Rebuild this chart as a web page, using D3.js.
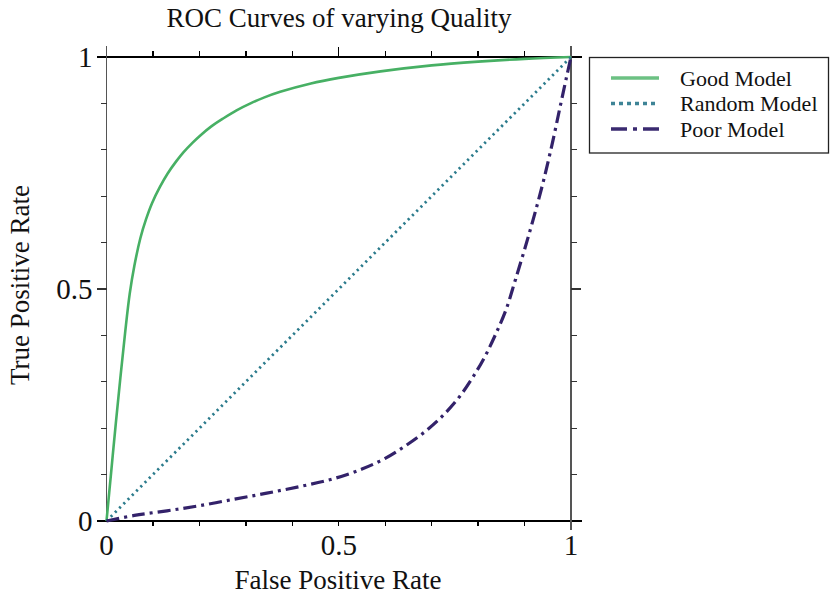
<!DOCTYPE html>
<html>
<head>
<meta charset="utf-8">
<script src="https://cdn.jsdelivr.net/npm/d3@7"></script>
<style>
  html, body { margin: 0; padding: 0; background: #fff; }
  svg { display: block; font-family: "Liberation Serif", "DejaVu Serif", serif; }
</style>
</head>
<body>
<svg id="chart" width="830" height="596"></svg>
<script>
// ROC curve samples (false positive rate → true positive rate)
const goodFpr = [0, 0.01, 0.02, 0.03, 0.04, 0.05, 0.06, 0.073, 0.085, 0.098, 0.115, 0.131, 0.15, 0.166, 0.185, 0.202, 0.225, 0.252, 0.28, 0.31, 0.34, 0.374, 0.44, 0.5, 0.59, 0.7, 0.8, 0.9, 1];
const goodTpr = [0, 0.105, 0.21, 0.31, 0.405, 0.49, 0.55, 0.61, 0.65, 0.685, 0.72, 0.748, 0.775, 0.795, 0.815, 0.831, 0.85, 0.868, 0.885, 0.90, 0.913, 0.925, 0.943, 0.955, 0.969, 0.982, 0.99, 0.996, 1];

const randomFpr = [0, 1];
const randomTpr = [0, 1];

const poorFpr = [0, 0.06, 0.13, 0.2, 0.275, 0.345, 0.415, 0.485, 0.55, 0.6, 0.645, 0.69, 0.725, 0.76, 0.79, 0.815, 0.838, 0.86, 0.88, 0.9, 0.92, 0.94, 0.96, 0.976, 0.99, 1];
const poorTpr = [0, 0.012, 0.022, 0.033, 0.047, 0.060, 0.074, 0.090, 0.112, 0.135, 0.163, 0.196, 0.228, 0.268, 0.312, 0.355, 0.403, 0.455, 0.519, 0.585, 0.655, 0.73, 0.815, 0.89, 0.955, 1];

const seriesNames = ["Good Model", "Random Model", "Poor Model"];
const majorTicks = [0, 0.5, 1];
const majorTickLabels = ["0", "0.5", "1"];
const minorTicks = [0.1, 0.2, 0.3, 0.4, 0.6, 0.7, 0.8, 0.9];

const titleText = "ROC Curves of varying Quality";
const xLabel = "False Positive Rate";
const yLabel = "True Positive Rate";

const svg = d3.select("#chart");
const plotLeft = 106.5, plotRight = 571, plotTop = 57, plotBottom = 521;

const x = d3.scaleLinear().domain([0, 1]).range([plotLeft, plotRight]);
const y = d3.scaleLinear().domain([0, 1]).range([plotBottom, plotTop]);

const series = [
  { name: seriesNames[0], fpr: goodFpr, tpr: goodTpr, color: "#47b064", legendColor: "#6cc183", width: 2.6, dash: null, legendDash: null },
  { name: seriesNames[1], fpr: randomFpr, tpr: randomTpr, color: "#2b7b8c", legendColor: "#3e8496", width: 2.8, dash: "2.2,3.8", legendDash: "4,4" },
  { name: seriesNames[2], fpr: poorFpr, tpr: poorTpr, color: "#33226a", legendColor: "#3a2a70", width: 3.2, dash: "13,5,3,5", legendDash: "16,6,4,6" }
];

// title
svg.append("text").attr("x", 339).attr("y", 27).attr("text-anchor", "middle")
  .attr("font-size", 27).attr("fill", "#111").text(titleText);

// frame: horizontal edges black, vertical edges grey
const frame = svg.append("g").attr("shape-rendering", "crispEdges");
frame.append("line").attr("x1", x(0) - 10).attr("x2", x(1) + 11).attr("y1", y(1)).attr("y2", y(1)).attr("stroke", "#000").attr("stroke-width", 1.6);
frame.append("line").attr("x1", x(0) - 10).attr("x2", x(1) + 11).attr("y1", y(0)).attr("y2", y(0)).attr("stroke", "#000").attr("stroke-width", 1.6);
frame.append("line").attr("x1", x(0)).attr("x2", x(0)).attr("y1", y(1) - 11).attr("y2", y(0)).attr("stroke", "#555").attr("stroke-width", 1.6);
frame.append("line").attr("x1", x(1)).attr("x2", x(1)).attr("y1", y(1) - 11).attr("y2", y(0) + 9).attr("stroke", "#555").attr("stroke-width", 1.6);

// outward ticks
const ticks = svg.append("g").attr("stroke-width", 1.3).attr("shape-rendering", "crispEdges");
minorTicks.concat([0.5]).forEach(v => {
  const len = v === 0.5 ? 10 : 6;
  ticks.append("line").attr("x1", x(v)).attr("x2", x(v)).attr("y1", y(1)).attr("y2", y(1) - len).attr("stroke", "#000");
  ticks.append("line").attr("x1", x(v)).attr("x2", x(v)).attr("y1", y(0)).attr("y2", y(0) + 5).attr("stroke", "#000");
  ticks.append("line").attr("y1", y(v)).attr("y2", y(v)).attr("x1", x(0)).attr("x2", x(0) - len).attr("stroke", "#333");
  ticks.append("line").attr("y1", y(v)).attr("y2", y(v)).attr("x1", x(1)).attr("x2", x(1) + len).attr("stroke", "#333");
});

// tick labels
const labelSize = 29;
majorTicks.forEach((v, i) => {
  svg.append("text").attr("x", x(v)).attr("y", y(0) + 34).attr("text-anchor", "middle")
    .attr("font-size", labelSize).attr("fill", "#111").text(majorTickLabels[i]);
  svg.append("text").attr("x", x(0) - 14).attr("y", y(v) + 10).attr("text-anchor", "end")
    .attr("font-size", labelSize).attr("fill", "#111").text(majorTickLabels[i]);
});

// axis titles
svg.append("text").attr("x", 338).attr("y", 589).attr("text-anchor", "middle")
  .attr("font-size", 27).attr("fill", "#111").text(xLabel);
svg.append("text").attr("transform", `translate(29,${(plotTop + plotBottom) / 2 - 4}) rotate(-90)`)
  .attr("text-anchor", "middle").attr("font-size", 27).attr("fill", "#111").text(yLabel);

// curves
const line = d3.line().x(d => x(d[0])).y(d => y(d[1])).curve(d3.curveCatmullRom.alpha(0.5));
series.forEach(s => {
  const pts = s.fpr.map((f, i) => [f, s.tpr[i]]);
  svg.append("path").datum(pts).attr("d", line)
    .attr("fill", "none").attr("stroke", s.color).attr("stroke-width", s.width)
    .attr("stroke-dasharray", s.dash);
});

// legend
const legend = svg.append("g");
legend.append("rect").attr("x", 589.5).attr("y", 57.5).attr("width", 239).attr("height", 95.5)
  .attr("fill", "#fff").attr("stroke", "#222").attr("stroke-width", 1.3);
series.forEach((s, i) => {
  const ly = 78 + i * 25.5;
  legend.append("line").attr("x1", 611).attr("x2", 659).attr("y1", ly).attr("y2", ly)
    .attr("stroke", s.legendColor).attr("stroke-width", 3.6).attr("stroke-dasharray", s.legendDash);
  legend.append("text").attr("x", 680).attr("y", ly + 7.5).attr("font-size", 22).attr("fill", "#111").text(s.name);
});
</script>
</body>
</html>
